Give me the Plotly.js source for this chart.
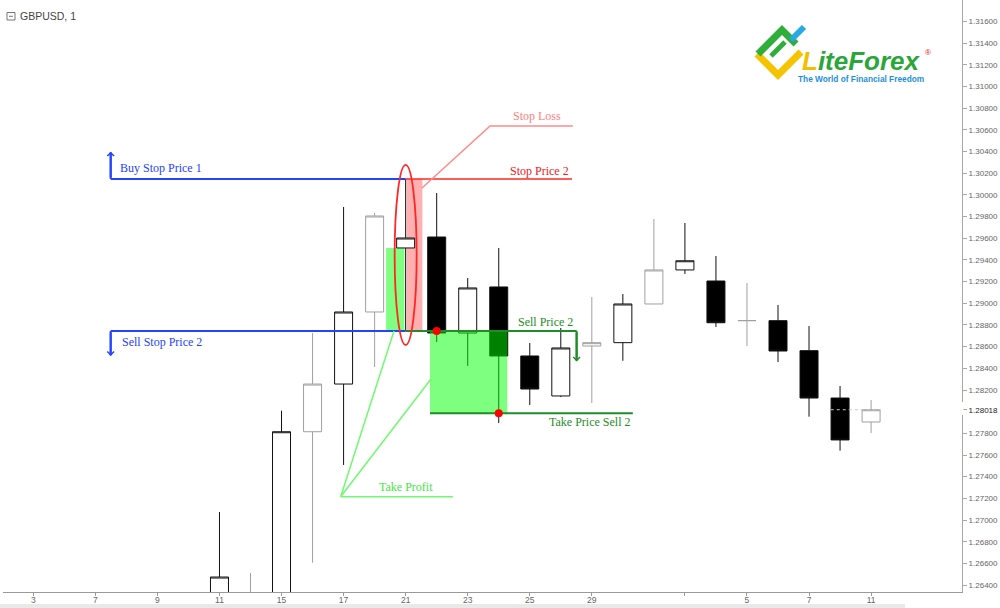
<!DOCTYPE html>
<html><head><meta charset="utf-8">
<script src="https://cdn.plot.ly/plotly-3.0.1.min.js"></script>
<style>html,body{margin:0;padding:0;background:#fff;}#chart{width:1000px;height:608px;}</style>
</head><body><div id="chart"></div>
<script>
// ---------- DATA ----------
const candleIndex = [6,7,8,9,10,11,12,13,14,15,16,17,18,19,20,21,22,23,24,25,26,27];
const openPrices  = [1.26280,1.26290,1.26300,1.27815,1.28255,1.28920,1.29511,1.29612,1.28726,1.29151,1.28514,1.28145,1.28606,1.28637,1.28994,1.29308,1.29206,1.28840,1.28840,1.28563,1.28126,1.27905];
const highPrices  = [1.27074,1.26511,1.28009,1.28726,1.29889,1.29834,1.30148,1.30018,1.29234,1.29511,1.28634,1.28772,1.29058,1.29086,1.29778,1.29741,1.29437,1.29188,1.28985,1.28791,1.28237,1.28108];
const lowPrices   = [1.26200,1.26200,1.26200,1.26606,1.27508,1.28412,1.28745,1.28643,1.28422,1.27895,1.28062,1.28135,1.28080,1.28470,1.28994,1.29271,1.28782,1.28606,1.28458,1.27954,1.27640,1.27803];
const closePrices = [1.26474,1.26320,1.27815,1.28255,1.28920,1.29806,1.29603,1.28726,1.29142,1.28514,1.28209,1.28588,1.28637,1.28994,1.29308,1.29393,1.28821,1.28841,1.28560,1.28126,1.27739,1.28018];

const dayTickPositions = [0,2,4,6,8,10,12,14,16,18,21,23,25,27];
const dayTickLabels    = ['3','7','9','11','15','17','21','23','25','29','','5','7','11'];

const priceTickValues = [1.264,1.266,1.268,1.270,1.272,1.274,1.276,1.278,1.28018,1.282,1.284,1.286,1.288,1.290,1.292,1.294,1.296,1.298,1.300,1.302,1.304,1.306,1.308,1.310,1.312,1.314,1.316];

// trade levels
const buyStopPrice1  = 1.30148;
const stopPrice2     = 1.30148;
const sellStopPrice2 = 1.28745;
const sellPrice2     = 1.28745;
const takePriceSell2 = 1.27985;
const lastPrice      = 1.28018;
const signalCandle   = 12;
const entryCandle    = 13;
const takeCandle     = 15;
const signalOpen     = 1.29511;

// candles drawn with grey outline
const greyCandles = [7,9,11,18,20,23,27];

// ---------- HELPERS ----------
const PLOT_L = 3, PLOT_W = 959, PLOT_H = 592;
const pX = x => (x - PLOT_L) / PLOT_W;
const pY = y => (PLOT_H - y) / PLOT_H;
const P = (x, y) => pX(x) + ',' + pY(y);

function pick(arr, keep) { return arr.filter((_, i) => keep(candleIndex[i])); }
const isGrey = c => greyCandles.indexOf(c) >= 0;
const isBlack = c => !isGrey(c);

const BLUE = '#2443ff', RED = '#ff2626', PINK = '#ff8a8a', DKGREEN = '#1e8c28', LTGREEN = '#70fa70', LTGREEN_TXT = '#45e445';
const SERIF = 'Liberation Serif, Times New Roman, serif';
const SANS = 'Liberation Sans, Arial, sans-serif';

function candleTrace(keep, color) {
  return {
    type: 'candlestick',
    x: pick(candleIndex, keep), open: pick(openPrices, keep), high: pick(highPrices, keep),
    low: pick(lowPrices, keep), close: pick(closePrices, keep),
    increasing: {line: {color: color, width: 1}, fillcolor: '#ffffff'},
    decreasing: {line: {color: color, width: 1}, fillcolor: '#000000'},
    whiskerwidth: 0, hoverinfo: 'skip', showlegend: false
  };
}

const traces = [candleTrace(isBlack, '#111111'), candleTrace(isGrey, '#a0a0a0')];

function hline(x0, x1, y, color, width, layer, dash) {
  return {type: 'line', xref: 'x', yref: 'y', x0: x0, x1: x1, y0: y, y1: y, layer: layer || 'above',
          line: {color: color, width: width, dash: dash || 'solid'}};
}
function vline(x, y0, y1, color, width) {
  return {type: 'line', xref: 'x', yref: 'y', x0: x, x1: x, y0: y0, y1: y1, layer: 'above', line: {color: color, width: width}};
}

const shapes = [
  // zones
  {type: 'rect', xref: 'x', yref: 'y', x0: 12.03, x1: 12.54, y0: sellStopPrice2, y1: stopPrice2, layer: 'below', fillcolor: 'rgba(255,0,0,0.31)', line: {width: 0}},
  {type: 'rect', xref: 'x', yref: 'y', x0: 11.37, x1: 11.96, y0: sellStopPrice2, y1: signalOpen, layer: 'below', fillcolor: '#80ff80', line: {width: 0}},
  {type: 'rect', xref: 'x', yref: 'y', x0: 12.785, x1: 15.275, y0: takePriceSell2, y1: sellStopPrice2, layer: 'above', fillcolor: 'rgba(0,255,0,0.5)', line: {width: 0}},
  // blue levels
  hline(2.494, signalCandle, buyStopPrice1, BLUE, 2),
  vline(2.494, buyStopPrice1, 1.30395, BLUE, 2),
  hline(2.494, signalCandle, sellStopPrice2, BLUE, 2),
  vline(2.494, sellStopPrice2, 1.28520, BLUE, 2),
  // red stop
  hline(signalCandle, 17.36, stopPrice2, RED, 1.6),
  {type: 'path', xref: 'x', yref: 'y', layer: 'above', path: 'M12.527,1.30064 L14.72,1.30637 L17.39,1.30637', line: {color: PINK, width: 1.5}},
  // green sell price
  hline(signalCandle, 17.51, sellPrice2, DKGREEN, 2),
  vline(17.51, sellPrice2, 1.28470, DKGREEN, 2),
  hline(12.785, 19.32, takePriceSell2, DKGREEN, 2),
  // take profit pointers
  {type: 'path', xref: 'x', yref: 'y', layer: 'above', path: 'M11.624,' + sellStopPrice2 + ' L9.906,1.27215 L12.817,1.28302 M9.906,1.27215 L13.526,1.27215', line: {color: LTGREEN, width: 1.5}},
  // ellipse
  {type: 'circle', xref: 'x', yref: 'y', xsizemode: 'pixel', ysizemode: 'pixel', xanchor: signalCandle, yanchor: (buyStopPrice1 + sellStopPrice2) / 2,
   x0: -11, x1: 11, y0: -90, y1: 90, layer: 'above', line: {color: RED, width: 1.8}},
  // dots
  {type: 'circle', xref: 'x', yref: 'y', xsizemode: 'pixel', ysizemode: 'pixel', xanchor: entryCandle, yanchor: sellPrice2, x0: -4, x1: 4, y0: -4, y1: 4, layer: 'above', fillcolor: '#ff0000', line: {width: 0}},
  {type: 'circle', xref: 'x', yref: 'y', xsizemode: 'pixel', ysizemode: 'pixel', xanchor: takeCandle, yanchor: takePriceSell2, x0: -4, x1: 4, y0: -4, y1: 4, layer: 'above', fillcolor: '#ff0000', line: {width: 0}},
  // last price dotted
  hline(25.7, 27.3, lastPrice, '#c4c4c4', 1, 'above', 'dot'),
  // title icon
  {type: 'rect', xref: 'paper', yref: 'paper', x0: pX(7), x1: pX(15), y0: pY(20), y1: pY(12.5), line: {color: '#777', width: 1}},
  {type: 'line', xref: 'paper', yref: 'paper', x0: pX(9), x1: pX(13), y0: pY(16.3), y1: pY(16.3), line: {color: '#777', width: 1}},
  // gap on axis for the last-price label
  {type: 'rect', xref: 'paper', yref: 'paper', x0: pX(960.5), x1: pX(963.5), y0: pY(415), y1: pY(402), fillcolor: '#ffffff', line: {width: 0}, layer: 'above'},
  // bottom scroll strip
  {type: 'rect', xref: 'paper', yref: 'paper', x0: pX(0), x1: pX(905), y0: pY(608), y1: pY(604), fillcolor: '#e9e9e9', line: {width: 0}},
  // logo
  {type: 'path', xref: 'paper', yref: 'paper', path: 'M' + P(757, 54) + ' L' + P(778, 75) + ' L' + P(801, 52), line: {color: '#f6c300', width: 7}},
  {type: 'path', xref: 'paper', yref: 'paper', path: 'M' + P(758, 54) + ' L' + P(782, 30) + ' L' + P(796, 44), line: {color: '#2fae3a', width: 7}},
  {type: 'path', xref: 'paper', yref: 'paper', path: 'M' + P(771, 56) + ' L' + P(785, 42), line: {color: '#2fae3a', width: 5}},
  {type: 'path', xref: 'paper', yref: 'paper', path: 'M' + P(791, 40) + ' L' + P(804, 27), line: {color: '#29a9e3', width: 6}}
];

function label(x, y, text, anchor, color) {
  return {xref: 'x', yref: 'y', x: x, y: y, text: text, showarrow: false, xanchor: anchor, yanchor: 'middle',
          font: {family: SERIF, size: 12, color: color}};
}
function arrowHead(x, tipY, tailY, color) {
  return {xref: 'x', yref: 'y', axref: 'x', ayref: 'y', x: x, y: tipY, ax: x, ay: tailY, text: '', showarrow: true,
          arrowhead: 4, arrowwidth: 2, arrowsize: 0.65, arrowcolor: color, standoff: 0, startstandoff: 0, font: {size: 1}};
}

const annotations = [
  label(2.739, 1.30246, 'Buy Stop Price 1', 'left', BLUE),
  label(2.794, 1.28640, 'Sell Stop Price 2', 'left', BLUE),
  label(17.33, 1.30224, 'Stop Price 2', 'right', '#ee2020'),
  label(16.23, 1.30729, 'Stop Loss', 'center', '#ff8080'),
  label(17.46, 1.28830, 'Sell Price 2', 'right', DKGREEN),
  label(19.30, 1.27908, 'Take Price Sell 2', 'right', DKGREEN),
  label(12.0, 1.27302, 'Take Profit', 'center', LTGREEN_TXT),
  arrowHead(2.494, 1.30400, buyStopPrice1, BLUE),
  arrowHead(2.494, 1.28514, sellStopPrice2, BLUE),
  arrowHead(17.51, 1.28463, sellPrice2, DKGREEN),
  {xref: 'paper', yref: 'paper', x: pX(18), y: pY(16), text: 'GBPUSD, 1', showarrow: false, xanchor: 'left', yanchor: 'middle',
   font: {family: SANS, size: 10.5, color: '#444'}},
  {xref: 'paper', yref: 'paper', x: pX(800), y: pY(61), text: '<b><i><span style="color:#f2bf00">L</span>iteForex</i></b>', showarrow: false,
   xanchor: 'left', yanchor: 'middle', font: {family: SANS, size: 26, color: '#2aa63a'}},
  {xref: 'paper', yref: 'paper', x: pX(796), y: pY(79), text: '<b>The World of Financial Freedom</b>', showarrow: false,
   xanchor: 'left', yanchor: 'middle', font: {family: SANS, size: 8.3, color: '#1e8fe0'}},
  {xref: 'paper', yref: 'paper', x: pX(928), y: pY(53), text: '®', showarrow: false, xanchor: 'center', yanchor: 'middle',
   font: {family: SANS, size: 8, color: '#e02020'}}
];

const priceTickText = priceTickValues.map(v => v === lastPrice ? '<span style="color:#222">' + v.toFixed(5) + '</span>' : v.toFixed(5));

const layout = {
  width: 1000, height: 608,
  margin: {l: PLOT_L, r: 1000 - PLOT_L - PLOT_W, t: 0, b: 608 - PLOT_H, pad: 0},
  paper_bgcolor: '#ffffff', plot_bgcolor: '#ffffff',
  showlegend: false, boxgap: 0.42, boxgroupgap: 0,
  xaxis: {range: [-0.9765, 29.93], tickmode: 'array', tickvals: dayTickPositions, ticktext: dayTickLabels,
          showgrid: false, zeroline: false, showline: true, linecolor: '#9a9a9a', linewidth: 1,
          ticks: 'outside', ticklen: 3, tickcolor: '#9a9a9a', ticklabelstandoff: -3,
          tickfont: {family: SANS, size: 8.5, color: '#666'},
          rangeslider: {visible: false}, fixedrange: true},
  yaxis: {side: 'right', range: [1.263357, 1.317995], tickmode: 'array', tickvals: priceTickValues, ticktext: priceTickText,
          showgrid: false, zeroline: false, showline: true, linecolor: '#a8a8a8', linewidth: 1,
          ticks: 'outside', ticklen: 4, tickcolor: '#a8a8a8', tickfont: {family: SANS, size: 8, color: '#666'}, fixedrange: true},
  shapes: shapes,
  annotations: annotations
};

Plotly.newPlot('chart', traces, layout, {staticPlot: true, displayModeBar: false});
</script>
</body></html>
